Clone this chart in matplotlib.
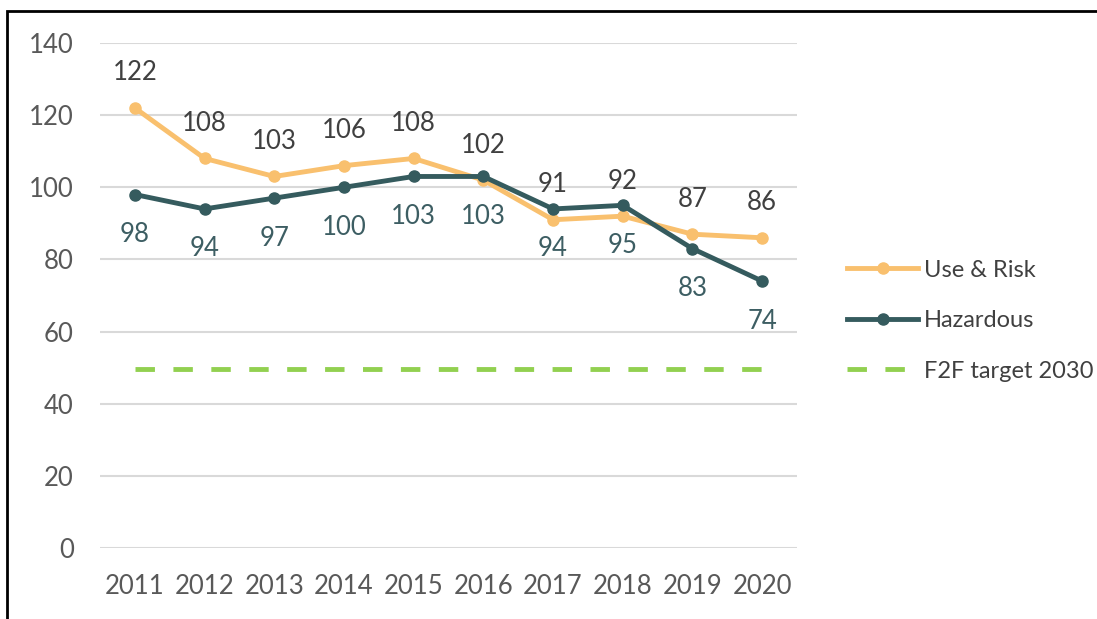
import matplotlib.pyplot as plt
from matplotlib.patches import Rectangle

plt.rcParams['font.family'] = ['Lato', 'DejaVu Sans']

# data
years = ['2011', '2012', '2013', '2014', '2015', '2016', '2017', '2018', '2019', '2020']
use_risk = [122, 108, 103, 106, 108, 102, 91, 92, 87, 86]
hazardous = [98, 94, 97, 100, 103, 103, 94, 95, 83, 74]
target_2030 = 49.5

c_orange = '#F9C06E'
c_teal = '#355B5E'
c_green = '#92D050'

fig = plt.figure(figsize=(10.97, 6.19), dpi=100)
ax = fig.add_axes([0.0912, 0.1147, 0.6353, 0.8158])

x = list(range(len(years)))

ax.plot(x, [target_2030] * len(x), color=c_green, lw=3.5, ls=(0, (4, 3.8)),
        label='F2F target 2030', zorder=2)
l1, = ax.plot(x, use_risk, color=c_orange, lw=3.5, marker='o', ms=8,
              label='Use & Risk', zorder=3)
l2, = ax.plot(x, hazardous, color=c_teal, lw=3.5, marker='o', ms=8,
              label='Hazardous', zorder=4)

# data labels
for xi, v in zip(x, use_risk):
    ax.annotate(str(v), (xi, v), xytext=(0, 35), textcoords='offset pixels',
                ha='center', va='center', fontsize=18.5, color='#404040')
for xi, v in zip(x, hazardous):
    ax.annotate(str(v), (xi, v), xytext=(0, -40), textcoords='offset pixels',
                ha='center', va='center', fontsize=18.5, color='#3D5E63')

ax.set_xlim(-0.5, len(years) - 0.5)
ax.set_ylim(0, 140)
ax.set_yticks(range(0, 141, 20))
ax.set_xticks(x)
ax.set_xticklabels(years)
ax.tick_params(axis='both', length=0, labelsize=18.5, labelcolor='#595959')
ax.tick_params(axis='y', pad=19)
ax.tick_params(axis='x', pad=19)
ax.grid(axis='y', color='#D9D9D9', lw=1.5)
ax.set_axisbelow(True)
for s in ax.spines.values():
    s.set_visible(False)

handles, labels = ax.get_legend_handles_labels()
order = [1, 2, 0]
leg = fig.legend([handles[i] for i in order], [labels[i] for i in order],
                 loc='upper left', bbox_to_anchor=(0.753, 0.615),
                 frameon=False, fontsize=17, labelcolor='#404040',
                 handlelength=3.0, handletextpad=0.25, labelspacing=1.25)

# outer frame
fig.patches.append(Rectangle((7 / 1097, -0.1), 1.2, 1 - 11 / 619 + 0.1,
                             transform=fig.transFigure, fill=False,
                             edgecolor='black', lw=2))

fig.savefig('out.png', dpi=100)
